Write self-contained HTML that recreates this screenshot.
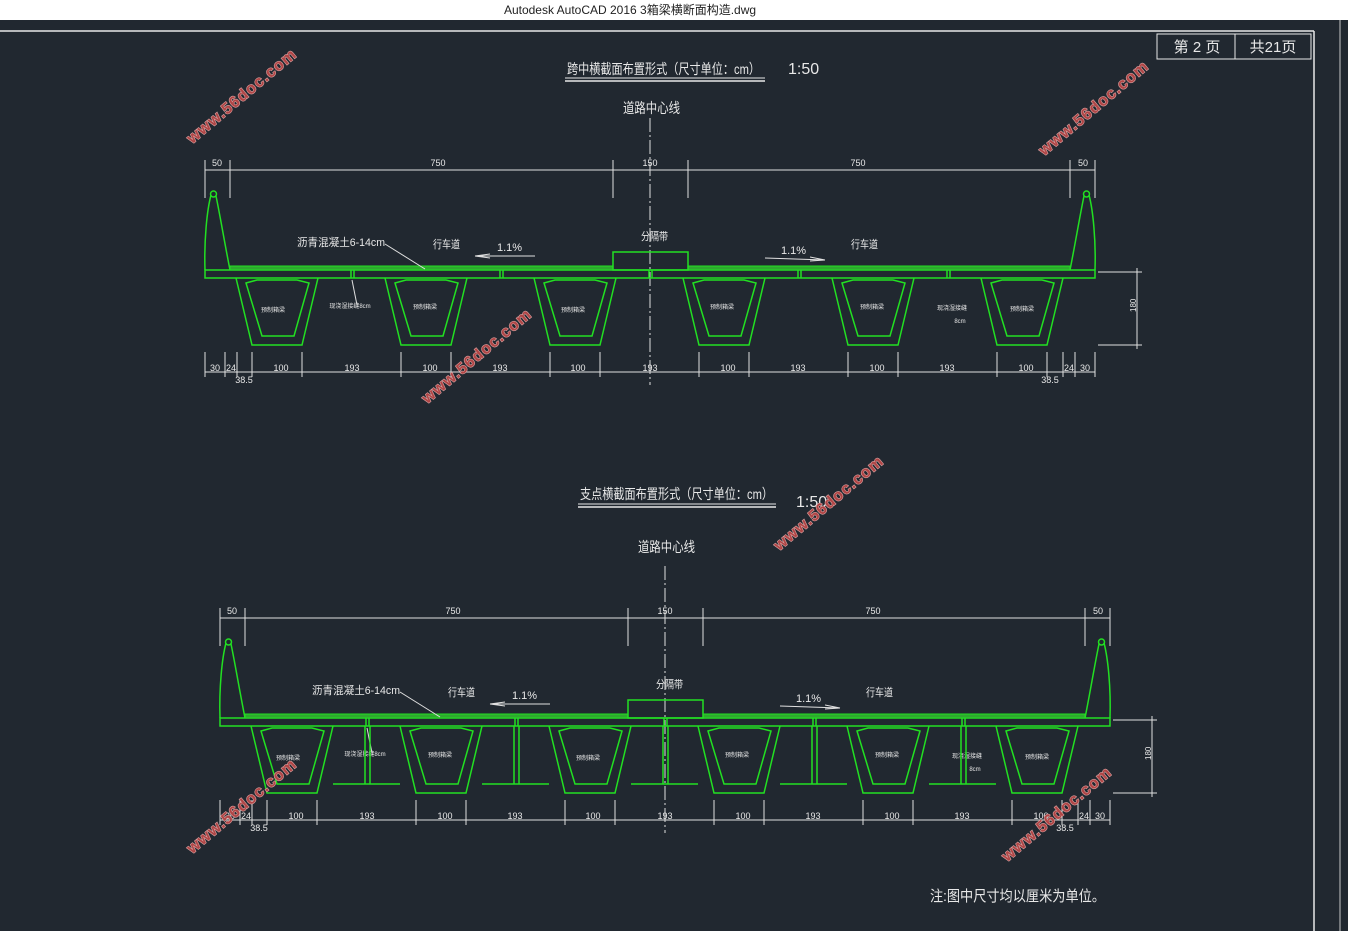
<!DOCTYPE html>
<html><head><meta charset="utf-8"><style>
html,body{margin:0;padding:0;background:#212830;}
svg{display:block}
text{font-family:"Liberation Sans","Noto Sans CJK SC",sans-serif;fill:#e8e8e8}
.g{stroke:#22e022;stroke-width:1.5;fill:none}
.d{stroke:#e0e0e0;stroke-width:1;fill:none}
.wm text{font-family:"Liberation Sans",sans-serif;font-weight:bold;font-size:16px;fill:#b04646;stroke:#d8a0a0;stroke-width:1.2;paint-order:stroke;letter-spacing:1px}
</style></head><body>
<svg width="1348" height="931" viewBox="0 0 1348 931" xmlns="http://www.w3.org/2000/svg" xmlns:xlink="http://www.w3.org/1999/xlink">
<defs>
<g id="box">
<path class="g" d="M-41,278 L-25,345 L25,345 L41,278"/>
<path class="g" d="M-31,283 L-20,280 L20,280 L32,283 L17,336 L-15,336 Z"/>
</g>
<g id="sec">
<line class="d" x1="650" y1="118" x2="650" y2="385" stroke-dasharray="14,3,2,3"/>
<line class="d" x1="205" y1="170" x2="1095" y2="170"/>
<g class="d"><line x1="205" y1="160" x2="205" y2="198"/><line x1="230" y1="160" x2="230" y2="198"/><line x1="613" y1="160" x2="613" y2="198"/><line x1="688" y1="160" x2="688" y2="198"/><line x1="1070" y1="160" x2="1070" y2="198"/><line x1="1095" y1="160" x2="1095" y2="198"/></g>
<g font-size="9" text-anchor="middle"><text x="217" y="166">50</text><text x="438" y="166">750</text><text x="650" y="166">150</text><text x="858" y="166">750</text><text x="1083" y="166">50</text></g>
<path class="g" d="M205,270 C204,240 207,210 211,195 M216,196 C220,215 225,245 230,270"/>
<circle class="g" cx="213.5" cy="194" r="3"/>
<path class="g" d="M1095,270 C1096,240 1093,210 1089,195 M1084,196 C1080,215 1075,245 1070,270"/>
<circle class="g" cx="1086.5" cy="194" r="3"/>
<rect class="g" x="205" y="270" width="890" height="8"/>
<rect x="230" y="266" width="383" height="4" fill="#2fa82f" stroke="#22e022" stroke-width="1"/>
<rect x="688" y="266" width="382" height="4" fill="#2fa82f" stroke="#22e022" stroke-width="1"/>
<rect class="g" x="613" y="252" width="75" height="18"/>
<g class="g" stroke-width="1"><line x1="351" y1="270" x2="351" y2="278"/><line x1="354" y1="270" x2="354" y2="278"/><line x1="500" y1="270" x2="500" y2="278"/><line x1="503" y1="270" x2="503" y2="278"/><line x1="649" y1="270" x2="649" y2="278"/><line x1="652" y1="270" x2="652" y2="278"/><line x1="798" y1="270" x2="798" y2="278"/><line x1="801" y1="270" x2="801" y2="278"/><line x1="947" y1="270" x2="947" y2="278"/><line x1="950" y1="270" x2="950" y2="278"/></g>
<use xlink:href="#box" x="277"/><use xlink:href="#box" x="426"/><use xlink:href="#box" x="575"/><use xlink:href="#box" x="724"/><use xlink:href="#box" x="873"/><use xlink:href="#box" x="1022"/>
<text x="297" y="246" font-size="11" textLength="88" lengthAdjust="spacingAndGlyphs">沥青混凝土6-14cm</text>
<line class="d" x1="385" y1="244" x2="425" y2="269"/>
<text x="433" y="248" font-size="11" textLength="27" lengthAdjust="spacingAndGlyphs">行车道</text>
<text x="851" y="248" font-size="11" textLength="27" lengthAdjust="spacingAndGlyphs">行车道</text>
<text x="641" y="240" font-size="11" textLength="27" lengthAdjust="spacingAndGlyphs">分隔带</text>
<text x="497" y="251" font-size="11">1.1%</text>
<path class="d" d="M535,256 L475,256 M475,256 L490,254 M475,256 L490,258"/>
<text x="781" y="254" font-size="11">1.1%</text>
<path class="d" d="M765,258 L825,260 M825,260 L810,257 M825,260 L810,261"/>
<g font-size="6" text-anchor="middle"><text x="273" y="312">预制箱梁</text><text x="425" y="309">预制箱梁</text><text x="573" y="312">预制箱梁</text><text x="722" y="309">预制箱梁</text><text x="872" y="309">预制箱梁</text><text x="1022" y="311">预制箱梁</text><text x="350" y="308">现浇湿接缝8cm</text><text x="952" y="310">现浇湿接缝</text><text x="960" y="323">8cm</text></g>
<line class="d" x1="352" y1="280" x2="357" y2="305"/>
<line class="d" x1="1098" y1="272" x2="1142" y2="272"/><line class="d" x1="1098" y1="345" x2="1142" y2="345"/>
<line class="d" x1="1137" y1="268" x2="1137" y2="349"/>
<text transform="translate(1136,312) rotate(-90)" font-size="8">180</text>
<line class="d" x1="205" y1="372" x2="1095" y2="372"/>
<g class="d"><line x1="205" y1="352" x2="205" y2="377"/><line x1="225" y1="352" x2="225" y2="377"/><line x1="237" y1="352" x2="237" y2="377"/><line x1="252" y1="352" x2="252" y2="377"/><line x1="302" y1="352" x2="302" y2="377"/><line x1="401" y1="352" x2="401" y2="377"/><line x1="451" y1="352" x2="451" y2="377"/><line x1="550" y1="352" x2="550" y2="377"/><line x1="600" y1="352" x2="600" y2="377"/><line x1="699" y1="352" x2="699" y2="377"/><line x1="749" y1="352" x2="749" y2="377"/><line x1="848" y1="352" x2="848" y2="377"/><line x1="898" y1="352" x2="898" y2="377"/><line x1="997" y1="352" x2="997" y2="377"/><line x1="1047" y1="352" x2="1047" y2="377"/><line x1="1063" y1="352" x2="1063" y2="377"/><line x1="1075" y1="352" x2="1075" y2="377"/><line x1="1095" y1="352" x2="1095" y2="377"/></g>
<g font-size="9" text-anchor="middle"><text x="215" y="371">30</text><text x="231" y="371">24</text><text x="244" y="383">38.5</text><text x="281" y="371">100</text><text x="352" y="371">193</text><text x="430" y="371">100</text><text x="500" y="371">193</text><text x="578" y="371">100</text><text x="650" y="371">193</text><text x="728" y="371">100</text><text x="798" y="371">193</text><text x="877" y="371">100</text><text x="947" y="371">193</text><text x="1026" y="371">100</text><text x="1050" y="383">38.5</text><text x="1069" y="371">24</text><text x="1085" y="371">30</text></g>
</g>
</defs>
<rect x="0" y="0" width="1348" height="20" fill="#ffffff"/>
<text x="630" y="14" font-size="12" text-anchor="middle" style="fill:#222">Autodesk AutoCAD 2016     3箱梁横断面构造.dwg</text>
<line x1="0" y1="31" x2="1314" y2="31" stroke="#e8e8e8" stroke-width="1.5"/>
<line x1="1314" y1="31" x2="1314" y2="931" stroke="#e8e8e8" stroke-width="1.5"/>
<line x1="1340" y1="20" x2="1340" y2="931" stroke="#c8c8c8" stroke-width="1"/>
<rect x="1157" y="34" width="154" height="25" fill="none" stroke="#e8e8e8"/>
<line x1="1235" y1="34" x2="1235" y2="59" stroke="#e8e8e8"/>
<text x="1197" y="52" font-size="15" text-anchor="middle">第 2 页</text>
<text x="1273" y="52" font-size="15" text-anchor="middle">共21页</text>
<text x="567" y="74" font-size="14" textLength="193" lengthAdjust="spacingAndGlyphs">跨中横截面布置形式（尺寸单位：cm）</text>
<line x1="565" y1="78" x2="765" y2="78" stroke="#e8e8e8"/><line x1="565" y1="81" x2="765" y2="81" stroke="#e8e8e8" stroke-width="1.5"/>
<text x="788" y="74" font-size="16">1:50</text>
<text x="623" y="113" font-size="14" textLength="57" lengthAdjust="spacingAndGlyphs">道路中心线</text>
<use xlink:href="#sec"/>
<text x="580" y="499" font-size="14" textLength="193" lengthAdjust="spacingAndGlyphs">支点横截面布置形式（尺寸单位：cm）</text>
<line x1="578" y1="504" x2="776" y2="504" stroke="#e8e8e8"/><line x1="578" y1="507" x2="776" y2="507" stroke="#e8e8e8" stroke-width="1.5"/>
<text x="796" y="507" font-size="16">1:50</text>
<text x="638" y="552" font-size="14" textLength="57" lengthAdjust="spacingAndGlyphs">道路中心线</text>
<g transform="translate(15,448)">
<use xlink:href="#sec"/>
<g class="g" stroke-width="1.3">
<line x1="318" y1="336" x2="385" y2="336"/><line x1="467" y1="336" x2="534" y2="336"/><line x1="616" y1="336" x2="683" y2="336"/><line x1="765" y1="336" x2="832" y2="336"/><line x1="914" y1="336" x2="981" y2="336"/>
<line x1="350" y1="278" x2="350" y2="336"/><line x1="355" y1="278" x2="355" y2="336"/><line x1="499" y1="278" x2="499" y2="336"/><line x1="504" y1="278" x2="504" y2="336"/><line x1="648" y1="278" x2="648" y2="336"/><line x1="653" y1="278" x2="653" y2="336"/><line x1="797" y1="278" x2="797" y2="336"/><line x1="802" y1="278" x2="802" y2="336"/><line x1="946" y1="278" x2="946" y2="336"/><line x1="951" y1="278" x2="951" y2="336"/>
</g>
</g>
<text x="930" y="901" font-size="15" textLength="175" lengthAdjust="spacingAndGlyphs">注:图中尺寸均以厘米为单位。</text>
<g class="wm">
<text transform="translate(245,100) rotate(-40)" text-anchor="middle">www.56doc.com</text>
<text transform="translate(1097,112) rotate(-40)" text-anchor="middle">www.56doc.com</text>
<text transform="translate(480,360) rotate(-40)" text-anchor="middle">www.56doc.com</text>
<text transform="translate(832,507) rotate(-40)" text-anchor="middle">www.56doc.com</text>
<text transform="translate(245,810) rotate(-40)" text-anchor="middle">www.56doc.com</text>
<text transform="translate(1060,818) rotate(-40)" text-anchor="middle">www.56doc.com</text>
</g>
</svg>
</body></html>
